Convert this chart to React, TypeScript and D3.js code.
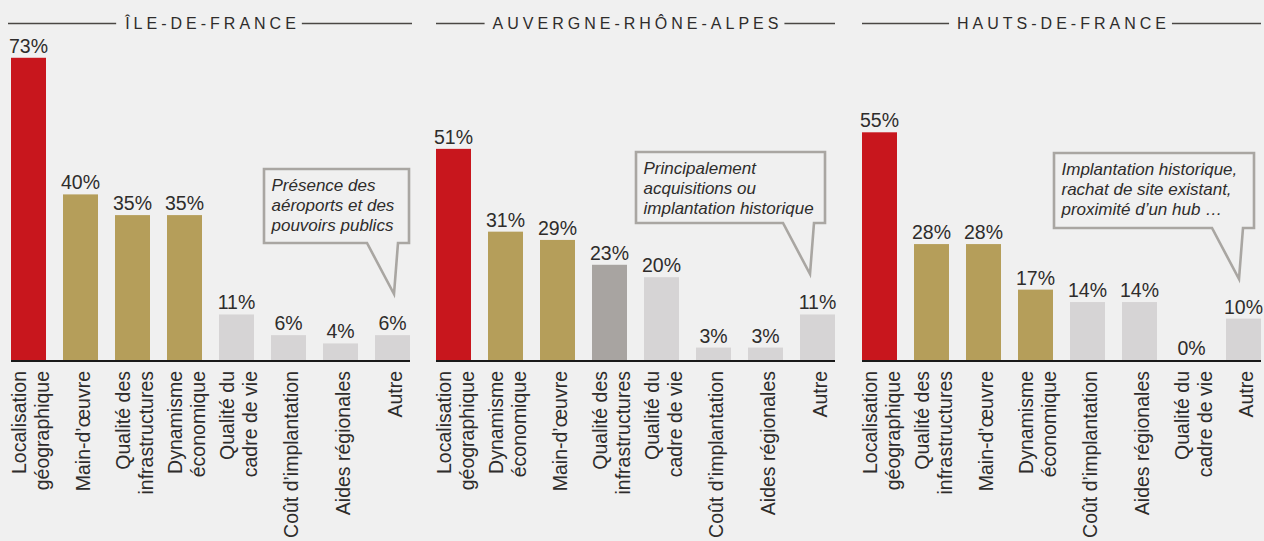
import React, { useEffect, useRef } from "react";
import * as d3 from "d3";

// regions (panel titles)
const regions = ["ÎLE-DE-FRANCE", "AUVERGNE-RHÔNE-ALPES", "HAUTS-DE-FRANCE"];

// Île-de-France
const idfCategories = [
  "Localisation\ngéographique",
  "Main-d’œuvre",
  "Qualité des\ninfrastructures",
  "Dynamisme\néconomique",
  "Qualité du\ncadre de vie",
  "Coût d’implantation",
  "Aides régionales",
  "Autre",
];
const idfValues = [73, 40, 35, 35, 11, 6, 4, 6];
const idfNote = ["Présence des", "aéroports et des", "pouvoirs publics"];

// Auvergne-Rhône-Alpes
const araCategories = [
  "Localisation\ngéographique",
  "Dynamisme\néconomique",
  "Main-d’œuvre",
  "Qualité des\ninfrastructures",
  "Qualité du\ncadre de vie",
  "Coût d’implantation",
  "Aides régionales",
  "Autre",
];
const araValues = [51, 31, 29, 23, 20, 3, 3, 11];
const araNote = ["Principalement", "acquisitions ou", "implantation historique"];

// Hauts-de-France
const hdfCategories = [
  "Localisation\ngéographique",
  "Qualité des\ninfrastructures",
  "Main-d’œuvre",
  "Dynamisme\néconomique",
  "Coût d’implantation",
  "Aides régionales",
  "Qualité du\ncadre de vie",
  "Autre",
];
const hdfValues = [55, 28, 28, 17, 14, 14, 0, 10];
const hdfNote = ["Implantation historique,", "rachat de site existant,", "proximité d’un hub …"];

// bar shades, kept apart from the data
const idfShades = ["red", "gold", "gold", "gold", "light", "light", "light", "light"];
const araShades = ["red", "gold", "gold", "dark", "light", "light", "light", "light"];
const hdfShades = ["red", "gold", "gold", "gold", "light", "light", "light", "light"];

const palette: Record<string, string> = {
  red: "#c8161d",
  gold: "#b59e5a",
  dark: "#a8a4a1",
  light: "#d6d4d5",
};

const W = 1264;
const H = 541;
const BASE = 360;
const PANEL_W = 399;
const FONT = "'Liberation Sans', Arial, Helvetica, sans-serif";
const TEXT = "#2e2c2b";

const panels = [
  {
    title: regions[0], categories: idfCategories, values: idfValues, shades: idfShades, note: idfNote,
    left: 11, box: { l: 253, t: 169, r: 398, b: 243 },
  },
  {
    title: regions[1], categories: araCategories, values: araValues, shades: araShades, note: araNote,
    left: 436, box: { l: 200, t: 152, r: 389, b: 223 },
  },
  {
    title: regions[2], categories: hdfCategories, values: hdfValues, shades: hdfShades, note: hdfNote,
    left: 862, box: { l: 192, t: 153, r: 392, b: 228 },
  },
];

export default function App() {
  const svgRef = useRef<SVGSVGElement>(null);

  useEffect(() => {
    const svg = d3.select(svgRef.current);
    svg.selectAll("*").remove();

    svg.append("rect").attr("width", W).attr("height", H).attr("fill", "#f0f0f0");

    const y = d3.scaleLinear().domain([0, 100]).range([BASE, BASE - 414]);

    panels.forEach((p) => {
      const x0 = p.left;
      const x = d3
        .scaleBand()
        .domain(p.categories)
        .range([x0, x0 + PANEL_W])
        .paddingInner(17 / 52)
        .paddingOuter(0);
      const bw = x.bandwidth();
      const g = svg.append("g");
      const rows = p.categories.map((c, i) => ({ c, v: p.values[i], s: p.shades[i] }));

      // title with rules either side
      const ls = 4;
      const title = g
        .append("text")
        .attr("x", x0 + PANEL_W / 2 + ls / 2)
        .attr("y", 28.5)
        .attr("text-anchor", "middle")
        .attr("font-size", 16)
        .attr("letter-spacing", ls)
        .attr("fill", TEXT)
        .text(p.title);
      // @ts-ignore
      const bb = title.node().getBBox();
      g.append("line")
        .attr("x1", x0 - (x0 < 20 ? 3 : 0))
        .attr("x2", bb.x - 8)
        .attr("y1", 23.5)
        .attr("y2", 23.5)
        .attr("stroke", "#4a4744")
        .attr("stroke-width", 1.4);
      g.append("line")
        .attr("x1", bb.x + bb.width - ls + 6)
        .attr("x2", x0 + PANEL_W + (x0 < 20 ? 2 : 0))
        .attr("y1", 23.5)
        .attr("y2", 23.5)
        .attr("stroke", "#4a4744")
        .attr("stroke-width", 1.4);

      // bars
      g.selectAll("rect.bar")
        .data(rows)
        .join("rect")
        .attr("class", "bar")
        .attr("x", (d) => x(d.c) as number)
        .attr("width", bw)
        .attr("y", (d) => y(d.v))
        .attr("height", (d) => BASE - y(d.v))
        .attr("fill", (d) => palette[d.s]);

      // value labels
      g.selectAll("text.val")
        .data(rows)
        .join("text")
        .attr("class", "val")
        .attr("x", (d) => (x(d.c) as number) + bw / 2)
        .attr("y", (d) => y(d.v) - 5)
        .attr("text-anchor", "middle")
        .attr("font-size", 19.5)
        .attr("fill", TEXT)
        .text((d) => `${d.v}%`);

      // baseline
      g.append("rect")
        .attr("x", x0)
        .attr("y", BASE)
        .attr("width", PANEL_W)
        .attr("height", 2)
        .attr("fill", "#1a1a1a");

      // rotated category labels
      rows.forEach((d) => {
        const cx = (x(d.c) as number) + bw / 2;
        const lines = d.c.split("\n");
        const t = g
          .append("text")
          .attr("transform", `translate(${cx},${BASE + 11}) rotate(-90)`)
          .attr("text-anchor", "end")
          .attr("font-size", 19.5)
          .attr("fill", TEXT);
        lines.forEach((ln, i) => {
          t.append("tspan")
            .attr("x", 0)
            .attr("y", 9 + (i - (lines.length - 1) / 2) * 23)
            .text(ln);
        });
      });

      // callout
      const L = x0 + p.box.l;
      const R = x0 + p.box.r;
      const T = p.box.t;
      const B = p.box.b;
      const tipX = R - 15;
      const tipY = B + 51;
      const path = d3.path();
      path.moveTo(L, T);
      path.lineTo(R, T);
      path.lineTo(R, B);
      path.lineTo(R - 11, B);
      path.lineTo(tipX, tipY);
      path.lineTo(R - 42, B);
      path.lineTo(L, B);
      path.closePath();
      g.append("path")
        .attr("d", path.toString())
        .attr("fill", "#f0f0f0")
        .attr("stroke", "#a9a6a2")
        .attr("stroke-width", 2.6);
      p.note.forEach((ln, i) => {
        g.append("text")
          .attr("x", L + 7.5)
          .attr("y", T + 21.5 + i * 20)
          .attr("font-size", 17)
          .attr("font-style", "italic")
          .attr("fill", TEXT)
          .text(ln);
      });
    });
  }, []);

  return (
    <svg
      ref={svgRef}
      width={W}
      height={H}
      style={{ position: "absolute", left: 0, top: 0, fontFamily: FONT }}
    />
  );
}
